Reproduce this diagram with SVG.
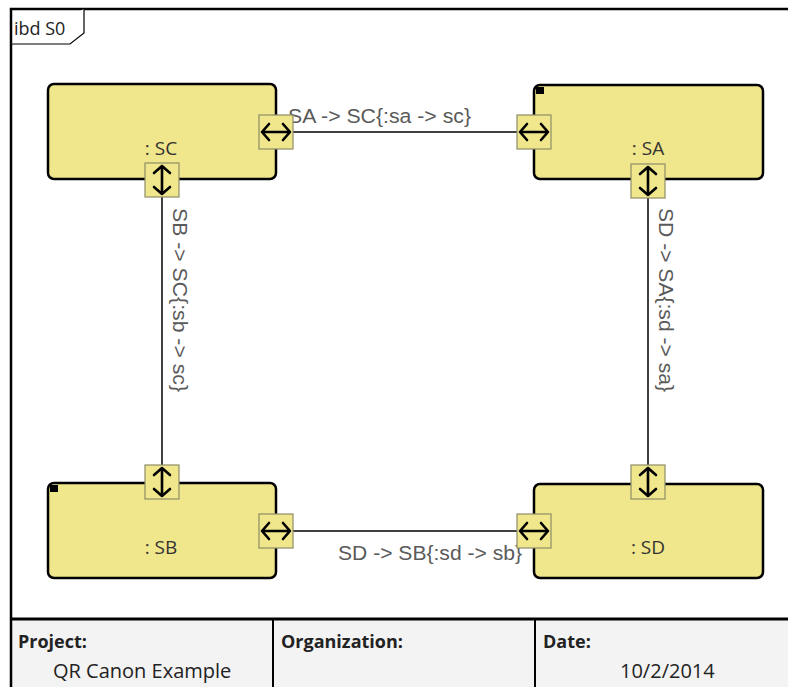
<svg xmlns="http://www.w3.org/2000/svg" width="788" height="687" viewBox="0 0 788 687">
<defs>
<style>
.frame{fill:none;stroke:#000;stroke-width:2.5}
.node{fill:#F0E68C;stroke:#000;stroke-width:2.5}
.port{fill:#F0E68C;stroke:#8E8C66;stroke-width:1.2}
.sym{fill:none;stroke:#000;stroke-width:2.6;stroke-linecap:round;stroke-linejoin:round}
.conn{fill:none;stroke:#000;stroke-width:1.5}
.clabel{font-family:"Liberation Sans",Arial,sans-serif;font-size:20.5px;fill:#5a5a5a}
.nlabel{font-family:"Open Sans","Noto Sans",sans-serif;font-size:19px;fill:#333;text-anchor:middle}
.fhead{font-family:"Open Sans","Noto Sans",sans-serif;font-size:18px;font-weight:bold;fill:#222}
.fval{font-family:"Open Sans","Noto Sans",sans-serif;font-size:20px;fill:#222}
.corner{fill:#000}
</style>
</defs>
<rect x="0" y="0" width="788" height="687" fill="#fff"/>
<g id="frame">
<rect x="11" y="619" width="790" height="80" fill="#f3f3f3"/>
<path class="frame" d="M11,687 V9 H800"/>
<path d="M11,619 H800" stroke="#000" stroke-width="3"/>
<path d="M273,619 V687 M535,619 V687" stroke="#000" stroke-width="2"/>
<path d="M11,44 H70 L84,33 V9" fill="#fff" stroke="#000" stroke-width="1.2"/>
<text x="14" y="35" font-family="'Open Sans','Noto Sans',sans-serif" font-size="18" fill="#222">ibd S0</text>
<text class="fhead" x="18" y="648">Project:</text>
<text class="fval" x="53" y="678">QR Canon Example</text>
<text class="fhead" x="281" y="648">Organization:</text>
<text class="fhead" x="543" y="648">Date:</text>
<text class="fval" x="620" y="678">10/2/2014</text>
</g>
<g id="SC">
<rect class="node" x="48" y="84" width="228" height="95" rx="6"/>
<text class="nlabel" x="161" y="155">: SC</text>
</g>
<g id="SA">
<rect class="node" x="534" y="85" width="229" height="94" rx="6"/>
<rect class="corner" x="536" y="87" width="8" height="7"/>
<text class="nlabel" x="648" y="155">: SA</text>
</g>
<g id="SB">
<rect class="node" x="48" y="483" width="228" height="95" rx="6"/>
<rect class="corner" x="50" y="485" width="8" height="7"/>
<text class="nlabel" x="161" y="554">: SB</text>
</g>
<g id="SD">
<rect class="node" x="534" y="484" width="229" height="94" rx="6"/>
<text class="nlabel" x="648" y="554">: SD</text>
</g>
<g id="connectors">
<line class="conn" x1="276" y1="132" x2="534" y2="132"/>
<line class="conn" x1="276" y1="531" x2="534" y2="531"/>
<line class="conn" x1="162" y1="180" x2="162" y2="482"/>
<line class="conn" x1="648" y1="181" x2="648" y2="482"/>
<text class="clabel" x="288" y="123" textLength="183" lengthAdjust="spacingAndGlyphs">SA -&gt; SC{:sa -&gt; sc}</text>
<text class="clabel" x="338" y="560" textLength="184" lengthAdjust="spacingAndGlyphs">SD -&gt; SB{:sd -&gt; sb}</text>
<text class="clabel" transform="translate(173,208) rotate(90)" textLength="184" lengthAdjust="spacingAndGlyphs">SB -&gt; SC{:sb -&gt; sc}</text>
<text class="clabel" transform="translate(659,208) rotate(90)" textLength="184" lengthAdjust="spacingAndGlyphs">SD -&gt; SA{:sd -&gt; sa}</text>
</g>
<g id="ports">
<g id="SC_right">
<rect class="port" x="259" y="115" width="34" height="34"/>
<path class="sym" d="M269,124 L262,132 L269,140 M283,124 L290,132 L283,140 M262,132 H290"/>
</g>
<g id="SC_bottom">
<rect class="port" x="145" y="163" width="34" height="34"/>
<path class="sym" d="M154,173 L162,166 L170,173 M154,187 L162,194 L170,187 M162,166 V194"/>
</g>
<g id="SA_left">
<rect class="port" x="517" y="115" width="34" height="34"/>
<path class="sym" d="M527,124 L520,132 L527,140 M541,124 L548,132 L541,140 M520,132 H548"/>
</g>
<g id="SA_bottom">
<rect class="port" x="631" y="164" width="34" height="34"/>
<path class="sym" d="M640,174 L648,167 L656,174 M640,188 L648,195 L656,188 M648,167 V195"/>
</g>
<g id="SB_top">
<rect class="port" x="145" y="465" width="34" height="34"/>
<path class="sym" d="M154,475 L162,468 L170,475 M154,489 L162,496 L170,489 M162,468 V496"/>
</g>
<g id="SB_right">
<rect class="port" x="259" y="514" width="34" height="34"/>
<path class="sym" d="M269,523 L262,531 L269,539 M283,523 L290,531 L283,539 M262,531 H290"/>
</g>
<g id="SD_top">
<rect class="port" x="631" y="465" width="34" height="34"/>
<path class="sym" d="M640,475 L648,468 L656,475 M640,489 L648,496 L656,489 M648,468 V496"/>
</g>
<g id="SD_left">
<rect class="port" x="517" y="514" width="34" height="34"/>
<path class="sym" d="M527,523 L520,531 L527,539 M541,523 L548,531 L541,539 M520,531 H548"/>
</g>
</g>
</svg>
